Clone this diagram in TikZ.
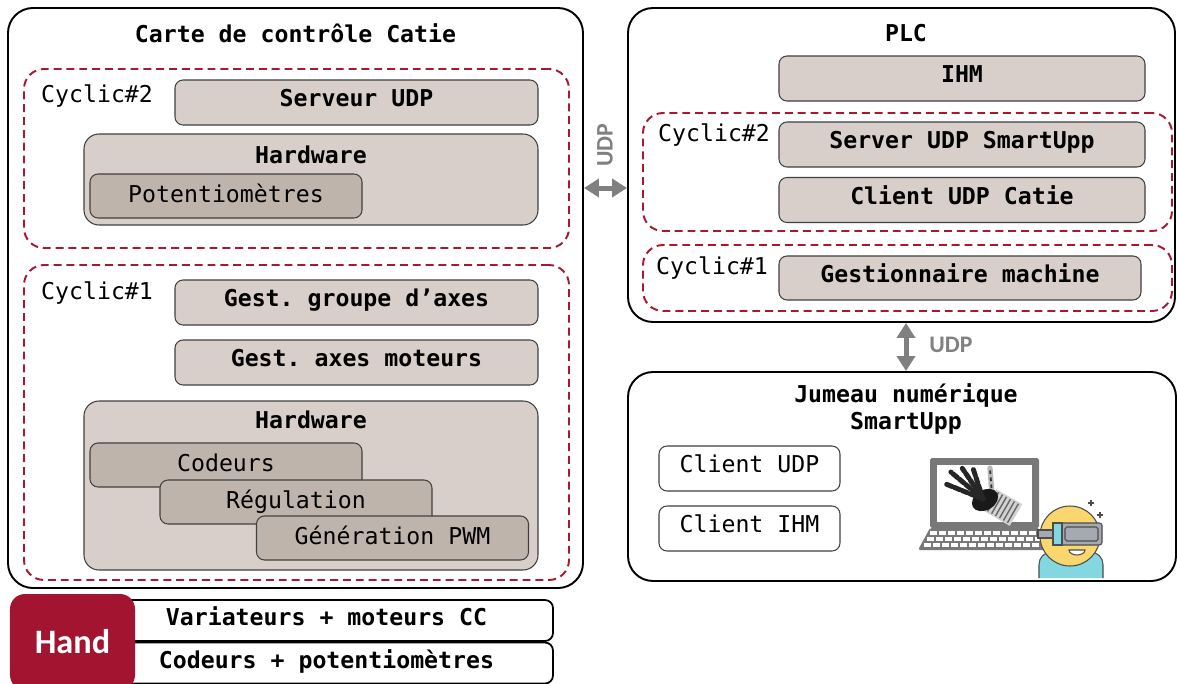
\documentclass[tikz,border=0pt]{standalone}
\usepackage{fontspec}
\setmonofont{DejaVu Sans Mono}
\newfontfamily\calibri{Carlito}
\usetikzlibrary{arrows.meta}

\definecolor{cyclered}{RGB}{166,25,46}
\definecolor{handred}{RGB}{163,20,48}
\definecolor{boxlight}{RGB}{217,207,202}
\definecolor{boxdark}{RGB}{191,180,172}
\definecolor{udpgray}{RGB}{128,128,128}
\definecolor{laptopgray}{RGB}{120,120,120}
\definecolor{faceyellow}{RGB}{250,214,110}
\definecolor{bodycyan}{RGB}{130,215,225}
\definecolor{visorgray}{RGB}{165,170,178}

\begin{document}
\begin{tikzpicture}[every node/.style={font=\ttfamily\fontsize{13.2}{15.6}\selectfont},
    bigbox/.style={draw=black, line width=1.1pt, rounded corners=0.5cm, fill=white},
    cyclic/.style={draw=cyclered, line width=1.1pt, dash pattern=on 4.5pt off 2.8pt, rounded corners=0.4cm},
    task/.style={draw=black!75, line width=0.6pt, rounded corners=0.16cm, fill=boxlight,
      minimum height=0.9cm, text height=0.34cm, text depth=0.18cm,
      font=\ttfamily\bfseries\fontsize{13.2}{15.6}\selectfont},
    hwbox/.style={draw=black!75, line width=0.6pt, rounded corners=0.3cm, fill=boxlight},
    part/.style={draw=black!75, line width=0.6pt, rounded corners=0.16cm, fill=boxdark,
      minimum width=5.44cm, minimum height=0.88cm, text height=0.34cm, text depth=0.1cm},
    client/.style={draw=black!75, line width=0.6pt, rounded corners=0.16cm, fill=white,
      minimum width=3.62cm, minimum height=0.9cm, text height=0.34cm, text depth=0.2cm},
    handbox/.style={draw=black, line width=1pt, rounded corners=0.16cm, fill=white,
      minimum width=9.06cm, minimum height=0.82cm, text height=0.34cm, text depth=0.14cm,
      font=\ttfamily\bfseries\fontsize{13.2}{15.6}\selectfont},
    title/.style={font=\ttfamily\bfseries\fontsize{13.2}{15.6}\selectfont},
    udplabel/.style={text=udpgray, font=\calibri\bfseries\fontsize{13.5}{16}\selectfont},
    udparrow/.style={draw=udpgray, line width=0.1cm,
      {Triangle[length=0.3cm,width=0.36cm]}-{Triangle[length=0.3cm,width=0.36cm]}}]
    \useasboundingbox (0,0) rectangle (23.54,-13.68);

    % LEFT : carte de controle
    \node[bigbox, minimum width=11.5cm, minimum height=11.6cm] (carte) at (5.91,-5.96) {};
    \node[title] (cartetitle) at (5.91,-0.66) {Carte de contrôle Catie};
    \node[cyclic, minimum width=10.9cm, minimum height=3.58cm] (ctwo) at (5.93,-3.17) {};
    \node[anchor=west] (ctwolabel) at (0.7,-1.92) {Cyclic\#2};
    \node[task, minimum width=7.26cm] (serveur) at (7.13,-2.05) {Serveur UDP};
    \node[hwbox, minimum width=9.08cm, minimum height=1.82cm] (hwtwo) at (6.22,-3.59) {};
    \node[title] (hwtwotitle) at (6.22,-3.1) {Hardware};
    \node[part] (potar) at (4.52,-3.92) {Potentiomètres};

    \node[cyclic, minimum width=10.9cm, minimum height=6.3cm] (cone) at (5.93,-8.45) {};
    \node[anchor=west] (conelabel) at (0.7,-5.87) {Cyclic\#1};
    \node[task, minimum width=7.26cm] (groupe) at (7.13,-6.05) {Gest. groupe d’axes};
    \node[task, minimum width=7.26cm] (axes) at (7.13,-7.25) {Gest. axes moteurs};
    \node[hwbox, minimum width=9.08cm, minimum height=3.38cm] (hwone) at (6.22,-9.71) {};
    \node[title] (hwonetitle) at (6.22,-8.4) {Hardware};
    \node[part] (codeurs) at (4.52,-9.3) {Codeurs};
    \node[part] (regul) at (5.92,-10.04) {Régulation};
    \node[part] (pwm) at (7.85,-10.76) {Génération PWM};

    % BOTTOM : hand
    \node[handbox] (variateurs) at (6.53,-12.41) {Variateurs + moteurs CC};
    \node[handbox] (capteurs) at (6.53,-13.26) {Codeurs + potentiomètres};
    \node[fill=handred, rounded corners=0.3cm, minimum width=2.5cm, minimum height=1.92cm,
      text=white, font=\calibri\bfseries\fontsize{19.5}{22}\selectfont] (hand) at (1.45,-12.84) {Hand};

    % RIGHT : PLC
    \node[bigbox, minimum width=10.94cm, minimum height=6.28cm] (plc) at (18.03,-3.3) {};
    \node[title] (plctitle) at (18.12,-0.66) {PLC};
    \node[task, minimum width=7.32cm] (ihm) at (19.24,-1.57) {IHM};
    \node[cyclic, minimum width=10.58cm, minimum height=2.36cm] (ptwo) at (18.15,-3.44) {};
    \node[anchor=west] (ptwolabel) at (13.04,-2.7) {Cyclic\#2};
    \node[task, minimum width=7.32cm] (server) at (19.24,-2.89) {Server UDP SmartUpp};
    \node[task, minimum width=7.32cm] (clientcatie) at (19.24,-4.0) {Client UDP Catie};
    \node[cyclic, minimum width=10.58cm, minimum height=1.32cm] (pone) at (18.15,-5.56) {};
    \node[anchor=west] (ponelabel) at (13.0,-5.36) {Cyclic\#1};
    \node[task, minimum width=7.24cm, minimum height=0.88cm] (gestion) at (19.2,-5.56) {Gestionnaire machine};

    % RIGHT : jumeau numerique
    \node[bigbox, minimum width=10.96cm, minimum height=4.18cm] (jumeau) at (18.04,-9.53) {};
    \node[title, align=center] (jumeautitle) at (18.12,-8.18) {Jumeau numérique\\SmartUpp};
    \node[client] (clientudp) at (14.99,-9.37) {Client UDP};
    \node[client] (clientihm) at (14.99,-10.57) {Client IHM};

    % UDP links
    \coordinate (udpa) at (12.1,-3.76);
    \coordinate (udpb) at (18.12,-7.0);
    \draw[udparrow] (carte.east |- udpa) -- (plc.west |- udpa);
    \node[udplabel, rotate=90] (udpalabel) at (12.1,-2.9) {UDP};
    \draw[udparrow] (plc.south -| udpb) -- (jumeau.north -| udpb);
    \node[udplabel] (udpblabel) at (19.02,-6.9) {UDP};

    % laptop
    \fill[laptopgray, rounded corners=1pt] (18.6,-9.16) rectangle (20.78,-10.56);
    \fill[white] (18.74,-9.3) rectangle (20.64,-10.44);
    \fill[laptopgray, rounded corners=1pt] (18.6,-10.56) -- (20.78,-10.56) -- (21.0,-11.0) -- (18.36,-11.0) -- cycle;
    \foreach \r in {0,1,2}
      \foreach \k in {0,...,12}
        \fill[white] (18.6+\k*0.18-\r*0.06,-10.62-\r*0.12) rectangle ++(0.13,-0.07);
    % robot hand on the screen
    \draw[gray!35, line width=0.5cm] (19.8,-10.0) -- (20.32,-10.3);
    \draw[black!60, line width=0.44cm, dash pattern=on 0.8pt off 1.8pt] (19.85,-10.03) -- (20.32,-10.3);
    \draw[gray!55, line width=3pt, line cap=round] (19.84,-9.9) -- (19.8,-9.36);
    \draw[black!80, line width=1pt, dash pattern=on 2pt off 2pt] (19.84,-9.9) -- (19.8,-9.36);
    \fill[black!90, rotate around={30:(19.7,-10.0)}] (19.7,-10.0) ellipse (0.28 and 0.2);
    \foreach \a/\l in {158/0.8,140/0.84,124/0.74,108/0.62}
      \draw[black!85, line width=2.8pt, line cap=round, dash pattern=on 3.5pt off 1.2pt] (19.66,-9.98) -- ++(\a:\l);

    % VR user
    \draw[fill=bodycyan, draw=black!70, line width=0.6pt, rounded corners=0.25cm]
      (20.78,-11.56) -- (20.78,-11.04) -- (22.06,-11.04) -- (22.06,-11.56);
    \draw[fill=faceyellow, draw=black!70, line width=0.6pt] (21.4,-10.72) circle (0.6);
    \draw[fill=visorgray, draw=black!70, line width=0.6pt] (20.76,-10.6) rectangle (21.06,-10.76);
    \draw[fill=visorgray, draw=black!70, line width=0.6pt, rounded corners=1.5pt] (21.06,-10.46) rectangle (22.04,-10.9);
    \draw[fill=bodycyan, draw=black!70, line width=0.6pt] (21.06,-10.46) rectangle (21.24,-10.9);
    \draw[draw=black!70, line width=0.6pt, rounded corners=1pt] (21.3,-10.54) rectangle (21.96,-10.82);
    \draw[fill=white, draw=black!70, line width=0.6pt] (21.38,-11.0) arc (180:360:0.16 and 0.1) -- cycle;
    \draw[black!70, line width=0.7pt] (21.82,-10.0) -- (21.82,-10.12) (21.76,-10.06) -- (21.88,-10.06);
    \draw[black!70, line width=0.7pt] (22.0,-10.24) -- (22.0,-10.36) (21.94,-10.3) -- (22.06,-10.3);
  \end{tikzpicture}
\end{document}
